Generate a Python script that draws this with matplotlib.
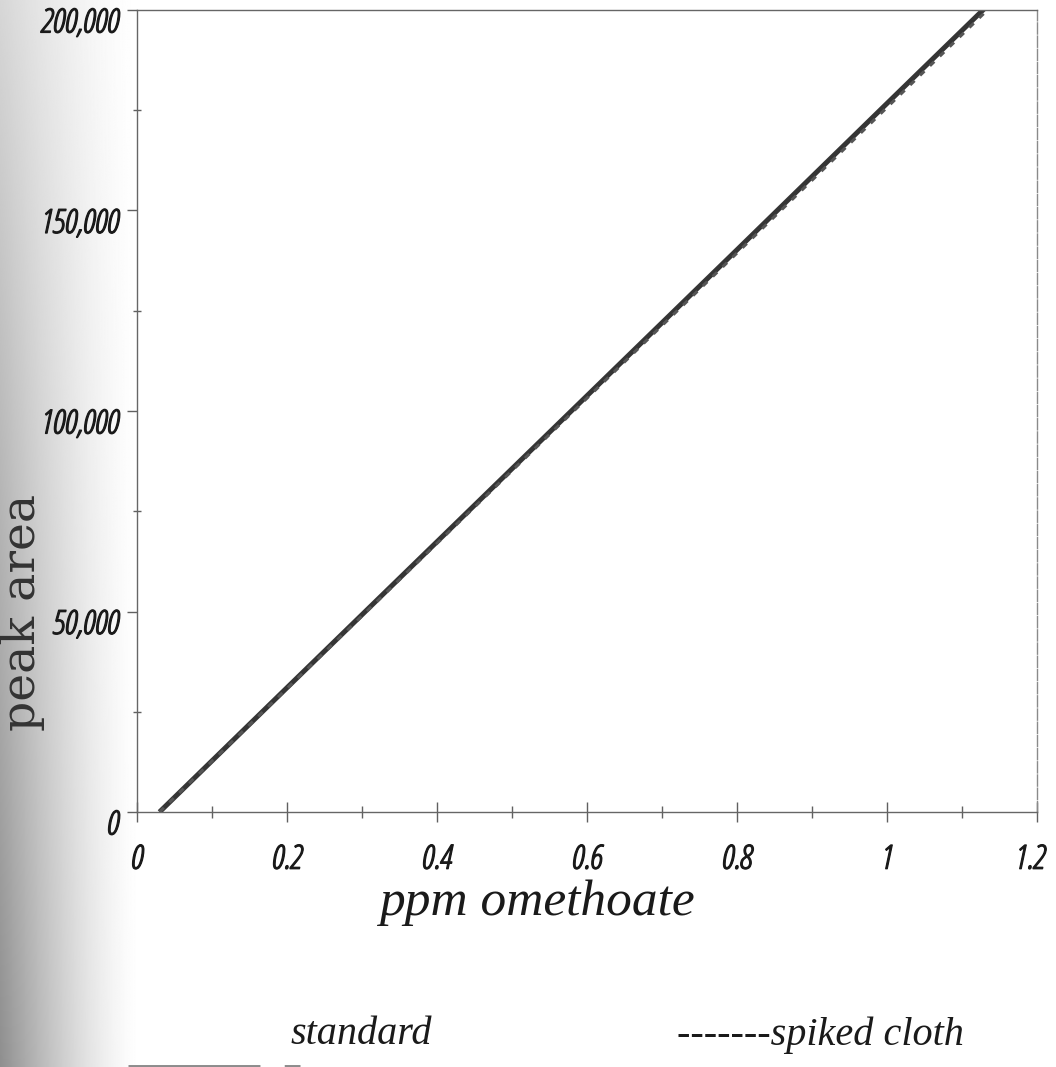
import numpy as np
import matplotlib
matplotlib.use("Agg")
import matplotlib.pyplot as plt
import matplotlib.patheffects as pe
from matplotlib import font_manager
from matplotlib.ticker import MultipleLocator, FixedLocator
from matplotlib.transforms import ScaledTranslation
from matplotlib.lines import Line2D

# calibration data: peak area against omethoate concentration
ppm = [0.03, 0.2, 0.4, 0.6, 0.8, 1.0, 1.2]
standard_area = [0, 31000, 67400, 103800, 140200, 176700, 213100]
spiked_area = [0, 30800, 67000, 103200, 139400, 175700, 212000]

x_ticks = [0, 0.2, 0.4, 0.6, 0.8, 1.0, 1.2]
x_labels = ["0", "0.2", "0.4", "0.6", "0.8", "1", "1.2"]
y_ticks = [0, 50000, 100000, 150000, 200000]
y_labels = ["0", "50,000", "100,000", "150,000", "200,000"]

# narrow italic sans for the tick numbers, if one is installed
files = [f.fname for f in font_manager.fontManager.ttflist]
tick_file = None
for key in ("SansNarrow-Italic", "CondLightItalic", "RobotoCondensed-Italic",
            "SansCondensed-Oblique"):
    hits = [p for p in files if key in p]
    if hits:
        tick_file = hits[0]
        break
if tick_file:
    tick_prop = font_manager.FontProperties(fname=tick_file, size=24)
else:
    tick_prop = font_manager.FontProperties(family="Liberation Sans",
                                            style="italic", size=20)
# thicken the light face a little
tick_stroke = [pe.withStroke(linewidth=0.9, foreground="#1a1a1a")]

W, H = 1056, 1067
fig = plt.figure(figsize=(W / 100, H / 100), dpi=100)
fig.patch.set_facecolor("white")

# grey shading along the left edge of the page
shade_ax = fig.add_axes([0, 0, 0.14, 1], zorder=0)
xs = np.linspace(0, 1, 160)[None, :]
ys = np.linspace(0, 1, 400)[:, None]  # 0 = top
depth = 0.16 + 0.28 * ys
fade = np.clip(1 - xs / 0.95, 0, 1) ** 1.4
gray = 1 - depth * fade
shade_ax.imshow(gray, cmap="gray", vmin=0, vmax=1, aspect="auto",
                extent=[0, 1, 0, 1], origin="upper")
shade_ax.axis("off")

ax = fig.add_axes([137 / W, 1 - 812 / H, 900 / W, 802 / H], zorder=1)
ax.set_facecolor("white")

ax.plot(ppm, standard_area, color="#353535", lw=3.6, solid_capstyle="butt",
        label="standard")
ax.plot(ppm, spiked_area, color="#555555", lw=2.2, ls=(0, (2.0, 2.5)),
        label="spiked cloth")

ax.set_xlim(0, 1.2)
ax.set_ylim(0, 200000)

for s in ax.spines.values():
    s.set_color("#666666")
    s.set_linewidth(1.0)
ax.spines["right"].set_linestyle((0, (8, 1.5)))
ax.spines["right"].set_color("#8a8a8a")

ax.xaxis.set_major_locator(FixedLocator(x_ticks))
ax.xaxis.set_minor_locator(MultipleLocator(0.1))
ax.set_xticks(x_ticks)
ax.set_xticklabels(x_labels, fontproperties=tick_prop, color="#1a1a1a",
                   path_effects=tick_stroke)
ax.yaxis.set_major_locator(FixedLocator(y_ticks))
ax.yaxis.set_minor_locator(MultipleLocator(25000))
ax.set_yticks(y_ticks)
ax.set_yticklabels(y_labels, fontproperties=tick_prop, color="#1a1a1a",
                   path_effects=tick_stroke)

ax.tick_params(axis="x", which="major", direction="inout", length=15,
               width=1, color="#606060", pad=15)
ax.tick_params(axis="x", which="minor", direction="inout", length=8,
               width=1, color="#606060")
ax.tick_params(axis="y", which="major", direction="out", length=7,
               width=1, color="#606060", pad=6)
ax.tick_params(axis="y", which="minor", direction="inout", length=6,
               width=1, color="#606060")

# y labels sit a little below their ticks, the last x label pulls in a bit
shift = ScaledTranslation(0, -7 / 72, fig.dpi_scale_trans)
for lab in ax.get_yticklabels():
    lab.set_transform(lab.get_transform() + shift)
last = ax.get_xticklabels()[-1]
last.set_transform(last.get_transform()
                   + ScaledTranslation(-5 / 72, 0, fig.dpi_scale_trans))

fig.text(537 / W, 1 - 903 / H, "ppm omethoate", family="Liberation Serif",
         style="italic", size=37, color="#1a1a1a", ha="center", va="center")

fig.text(22 / W, 1 - 612 / H, "peak area", family="DejaVu Serif", size=34,
         color="#333333", rotation=90, ha="center", va="center")

# legend written out below the axis title
fig.text(361 / W, 1 - 1035 / H, "standard", family="Liberation Serif",
         style="italic", size=29, color="#1a1a1a", ha="center", va="center")
fig.text(820 / W, 1 - 1035 / H, "-------spiked cloth", family="Liberation Serif",
         style="italic", size=29, color="#1a1a1a", ha="center", va="center")
fig.add_artist(Line2D([128 / W, 300 / W], [1 - 1068 / H, 1 - 1068 / H],
                      transform=fig.transFigure, color="#8c8c8c", lw=5,
                      ls=(0, (19, 3.5))))

fig.savefig("out.png", dpi=100)
